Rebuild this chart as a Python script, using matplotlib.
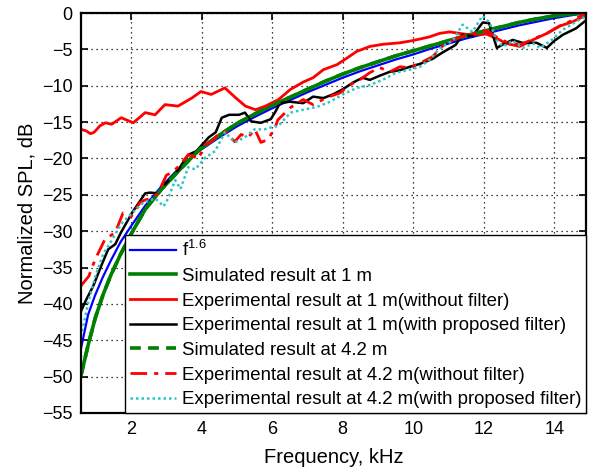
import matplotlib
matplotlib.use("Agg")
import matplotlib.pyplot as plt

# --- Data (frequency in kHz, normalized SPL in dB) ---
freq_smooth = [0.58, 0.78, 0.98, 1.2, 1.43, 1.7, 2.0, 2.4, 2.85, 3.33, 3.95, 4.5, 5.0, 5.5,
               6.0, 6.5, 7.0, 7.5, 8.0, 8.5, 9.0, 9.5, 10.0, 10.5, 11.0, 11.5, 12.0, 12.5,
               13.0, 13.5, 14.0, 14.5, 14.9]
spl_f16 = [-46.1, -41.5, -38.8, -36.3, -34.0, -31.5, -29.3, -26.5, -23.9, -21.5, -18.9, -17.1,
           -15.6, -14.3, -13.1, -12.0, -10.9, -9.9, -8.9, -8.0, -7.2, -6.4, -5.7, -4.9, -4.2,
           -3.5, -2.9, -2.3, -1.7, -1.2, -0.7, -0.3, 0.0]
spl_sim_1m = [-49.8, -45.7, -42.0, -38.8, -36.0, -33.2, -30.4, -27.0, -24.3, -21.8, -18.7, -16.8,
              -15.2, -13.9, -12.7, -11.6, -10.5, -9.4, -8.4, -7.5, -6.7, -5.9, -5.2, -4.5, -3.8,
              -3.1, -2.5, -1.9, -1.3, -0.8, -0.4, -0.1, 0.0]
spl_sim_42m = [-49.8, -45.7, -42.0, -38.8, -36.0, -33.2, -30.4, -27.0, -24.3, -21.8, -18.7, -16.8,
               -15.2, -13.9, -12.7, -11.6, -10.5, -9.4, -8.4, -7.5, -6.7, -5.9, -5.2, -4.5, -3.8,
               -3.1, -2.5, -1.9, -1.3, -0.8, -0.4, -0.1, 0.0]

freq_exp1_raw = [0.58, 0.72, 0.85, 0.95, 1.12, 1.27, 1.45, 1.72, 2.06, 2.4, 2.68, 2.96, 3.33,
                 3.72, 3.98, 4.27, 4.66, 4.95, 5.24, 5.53, 5.81, 6.18, 6.52, 6.88, 7.16, 7.45,
                 7.84, 8.12, 8.39, 8.77, 9.14, 9.62, 9.98, 10.45, 10.75, 11.03, 11.6, 12.08,
                 12.36, 12.65, 13.02, 13.39, 13.79, 14.15, 14.52, 14.9]
spl_exp1_raw = [-16.0, -16.2, -16.6, -16.4, -15.5, -15.1, -15.3, -14.4, -15.1, -13.7, -14.0,
                -12.6, -12.8, -11.7, -10.8, -11.2, -10.3, -11.6, -12.8, -13.3, -12.8, -11.9,
                -10.5, -9.5, -8.9, -7.8, -7.1, -6.2, -5.3, -4.6, -4.3, -4.1, -3.8, -3.3, -2.8,
                -2.6, -3.0, -2.9, -3.5, -4.2, -4.6, -3.7, -2.8, -1.8, -1.2, -0.3]

freq_exp1_filt = [0.58, 0.7, 0.93, 1.15, 1.35, 1.55, 1.71, 2.05, 2.4, 2.54, 2.76, 2.96, 3.33,
                  3.62, 3.85, 4.2, 4.4, 4.57, 4.78, 5.06, 5.23, 5.4, 5.68, 5.96, 6.1, 6.22, 6.5,
                  6.88, 7.16, 7.45, 7.72, 8.0, 8.28, 8.56, 8.77, 9.06, 9.33, 9.6, 9.9, 10.19,
                  10.55, 10.84, 11.2, 11.4, 11.68, 11.97, 12.15, 12.37, 12.55, 12.82, 13.1, 13.5,
                  13.79, 13.98, 14.24, 14.62, 14.9]
spl_exp1_filt = [-41.0, -39.7, -37.5, -34.8, -32.5, -31.8, -30.2, -27.3, -24.8, -24.7, -24.8,
                 -23.6, -21.6, -19.5, -19.0, -17.1, -16.4, -14.4, -14.0, -14.0, -13.7, -14.9,
                 -15.1, -14.6, -13.5, -12.4, -12.2, -12.4, -11.5, -11.7, -11.2, -10.5, -9.6,
                 -8.9, -9.2, -8.6, -8.1, -7.9, -7.4, -7.0, -6.3, -5.4, -4.4, -3.0, -3.2, -1.3,
                 -1.4, -4.8, -4.3, -3.7, -4.1, -4.1, -4.8, -3.9, -3.0, -2.1, -1.0]

freq_exp42_raw = [0.58, 0.8, 0.98, 1.26, 1.55, 1.77, 2.0, 2.25, 2.4, 2.57, 2.76, 3.0, 3.13,
                  3.35, 3.62, 3.77, 3.9, 4.1, 4.27, 4.47, 4.66, 4.94, 5.12, 5.32, 5.51, 5.68,
                  5.88, 6.08, 6.16, 6.52, 6.88, 7.16, 7.56, 7.92, 8.2, 8.48, 8.77, 9.05, 9.33,
                  9.62, 9.9, 10.19, 10.55, 10.84, 11.2, 11.6, 12.08, 12.36, 12.65, 13.02, 13.39,
                  13.79, 14.15, 14.52, 14.9]
spl_exp42_raw = [-37.5, -36.2, -33.9, -31.1, -30.2, -27.5, -28.0, -26.1, -25.7, -25.5, -24.8,
                 -22.3, -22.0, -21.1, -19.5, -19.7, -20.1, -18.1, -17.7, -16.7, -16.3, -17.7,
                 -16.7, -17.1, -16.0, -17.8, -17.4, -15.8, -14.7, -13.0, -11.9, -12.6, -11.6,
                 -11.0, -9.9, -9.2, -8.2, -7.5, -8.1, -7.4, -7.5, -6.9, -6.0, -4.5, -3.5, -3.0,
                 -2.4, -3.3, -4.0, -4.4, -3.6, -2.8, -1.8, -1.0, 0.0]

freq_exp42_filt = [0.58, 0.8, 1.0, 1.22, 1.42, 1.72, 1.92, 2.34, 2.68, 2.82, 2.92, 3.05, 3.25,
                   3.4, 3.62, 3.82, 4.1, 4.38, 4.66, 4.94, 5.22, 5.5, 5.78, 6.06, 6.16, 6.52,
                   6.88, 7.28, 7.64, 8.0, 8.4, 8.77, 9.13, 9.52, 9.9, 10.19, 10.47, 10.76, 11.12,
                   11.4, 11.68, 11.96, 12.16, 12.37, 12.55, 12.82, 13.1, 13.4, 13.6, 13.95,
                   14.24, 14.52, 14.75, 14.9]
spl_exp42_filt = [-44.5, -39.5, -36.0, -33.0, -31.5, -29.0, -28.0, -26.1, -25.5, -26.1, -26.6,
                  -25.5, -23.0, -24.2, -21.2, -21.5, -19.9, -19.0, -16.4, -17.8, -17.1, -16.0,
                  -16.0, -15.6, -15.6, -13.7, -13.3, -12.9, -12.2, -11.2, -10.3, -9.9, -9.2,
                  -8.2, -7.8, -7.4, -6.4, -4.8, -3.8, -1.6, -2.6, -0.4, -1.3, -3.8, -4.6, -3.8,
                  -4.8, -4.2, -4.8, -3.6, -2.3, -1.5, -0.8, -0.5]

x_ticks = [2, 4, 6, 8, 10, 12, 14]
y_ticks = list(range(-55, 1, 5))

# --- Style ---
plt.rcParams["font.family"] = ["Liberation Sans", "DejaVu Sans"]
plt.rcParams["mathtext.fontset"] = "custom"
plt.rcParams["mathtext.rm"] = "Liberation Sans"

fig = plt.figure(figsize=(5.98, 4.73), dpi=100)
ax = fig.add_axes([0.1355, 0.127, 0.8445, 0.8455])

ax.plot(freq_smooth, spl_f16, color="#0000ff", lw=1.6, label=r"f$^{\mathregular{1.6}}$")
ax.plot(freq_smooth, spl_sim_1m, color="#008000", lw=2.6, label="Simulated result at 1 m")
ax.plot(freq_exp1_raw, spl_exp1_raw, color="#ff0000", lw=2.0,
        label="Experimental result at 1 m(without filter)")
ax.plot(freq_exp1_filt, spl_exp1_filt, color="black", lw=1.8,
        label="Experimental result at 1 m(with proposed filter)")
ax.plot(freq_smooth, spl_sim_42m, color="#008000", lw=2.6, ls=(0, (3, 2)),
        label="Simulated result at 4.2 m")
ax.plot(freq_exp42_raw, spl_exp42_raw, color="#ff0000", lw=2.0, ls=(0, (6, 2.5, 1.5, 2.5)),
        label="Experimental result at 4.2 m(without filter)")
ax.plot(freq_exp42_filt, spl_exp42_filt, color="#2ec4c4", lw=1.8, ls=(0, (1, 1.2)),
        label="Experimental result at 4.2 m(with proposed filter)")

ax.set_xlim(0.58, 14.9)
ax.set_ylim(-55, 0)
ax.set_xticks(x_ticks)
ax.set_yticks(y_ticks)
ax.grid(True, color="black", ls=(0, (1, 3)), lw=0.9)
ax.tick_params(direction="in", length=5, width=1.2, labelsize=13, top=True, right=True, pad=6)
for sp in ax.spines.values():
    sp.set_linewidth(1.6)

ax.set_xlabel("Frequency, kHz", fontsize=14.5, labelpad=7)
ax.set_ylabel("Normalized SPL, dB", fontsize=14.5)

leg = ax.legend(loc="lower right", fontsize=13.4, frameon=True, fancybox=False, framealpha=1,
                edgecolor="black", borderaxespad=0, borderpad=0.25, labelspacing=0.41,
                handlelength=2.5, handletextpad=0.3)
leg.get_frame().set_linewidth(1.0)

fig.savefig("out.png", dpi=100)
